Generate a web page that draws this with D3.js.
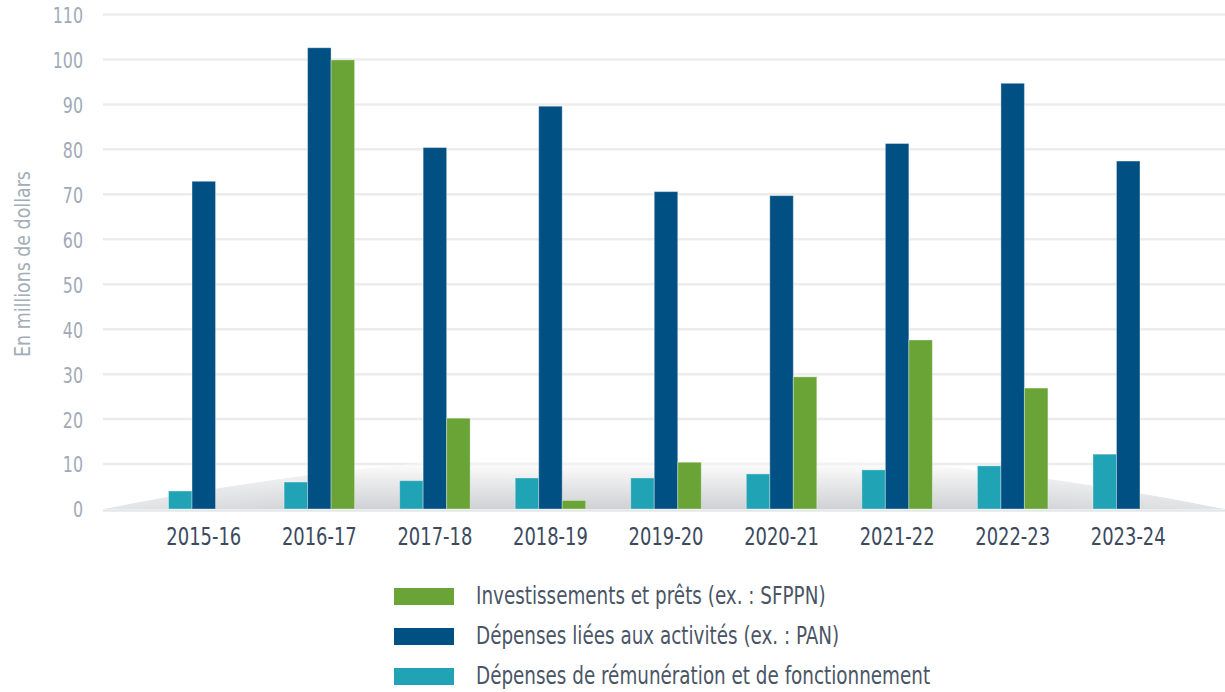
<!DOCTYPE html>
<html>
<head>
<meta charset="utf-8">
<script src="https://cdn.jsdelivr.net/npm/d3@7"></script>
<style>
  html, body { margin: 0; padding: 0; background: #ffffff; }
  svg { display: block; }
  text { font-family: "DejaVu Sans Condensed", "Liberation Sans Narrow", "Roboto", sans-serif; }
</style>
</head>
<body>
<svg id="chart" width="1225" height="692"></svg>
<script>
// Fiscal years shown on the horizontal axis
const years = ["2015-16", "2016-17", "2017-18", "2018-19", "2019-20", "2020-21", "2021-22", "2022-23", "2023-24"];

// Series names (legend order) and values, in millions of dollars
const seriesNames = [
  "Investissements et prêts (ex. : SFPPN)",
  "Dépenses liées aux activités (ex. : PAN)",
  "Dépenses de rémunération et de fonctionnement"
];
const investissements = [0, 99.9, 20.2, 1.9, 10.4, 29.4, 37.6, 26.9, 0];
const activites = [72.9, 102.6, 80.4, 89.6, 70.6, 69.7, 81.3, 94.7, 77.4];
const remuneration = [4.0, 6.0, 6.3, 6.9, 6.9, 7.8, 8.7, 9.6, 12.2];

// Y axis ticks
const yTicks = [0, 10, 20, 30, 40, 50, 60, 70, 80, 90, 100, 110];
const yTitle = "En millions de dollars";

const colors = {
  inv: "#6aa336",
  act: "#005083",
  rem: "#20a3b5"
};

const svg = d3.select("#chart");

const y = d3.scaleLinear().domain([0, 110]).range([509, 14.5]);

const x0 = d3.scaleBand()
  .domain(years)
  .range([146, 1186])
  .paddingInner(0.39)
  .paddingOuter(0.195);

// Bars inside each group: remuneration, activities, investments
const barOrder = ["rem", "act", "inv"];
const x1 = d3.scaleBand().domain(barOrder).range([0, x0.bandwidth()]);

const valuesByKey = { rem: remuneration, act: activites, inv: investissements };

// Gridlines
svg.append("g")
  .selectAll("line")
  .data(yTicks.filter(t => t > 0))
  .join("line")
  .attr("x1", 103)
  .attr("x2", 1225)
  .attr("y1", d => y(d))
  .attr("y2", d => y(d))
  .attr("stroke", "#ececec")
  .attr("stroke-width", 2.5);

// Floor shading beneath the bars: vertical fade, softened toward both ends
const defs = svg.append("defs");
const grad = defs.append("linearGradient")
  .attr("id", "floorGrad")
  .attr("x1", 0).attr("y1", 0).attr("x2", 0).attr("y2", 1);
grad.append("stop").attr("offset", "0%").attr("stop-color", "#ffffff").attr("stop-opacity", 0);
grad.append("stop").attr("offset", "40%").attr("stop-color", "#f1f1f2").attr("stop-opacity", 1);
grad.append("stop").attr("offset", "100%").attr("stop-color", "#cfd1d4").attr("stop-opacity", 1);

const fadeGrad = defs.append("linearGradient")
  .attr("id", "floorFade")
  .attr("x1", 0).attr("y1", 0).attr("x2", 1).attr("y2", 0);
fadeGrad.append("stop").attr("offset", "0%").attr("stop-color", "#fff").attr("stop-opacity", 0.55);
fadeGrad.append("stop").attr("offset", "20%").attr("stop-color", "#fff").attr("stop-opacity", 1);
fadeGrad.append("stop").attr("offset", "80%").attr("stop-color", "#fff").attr("stop-opacity", 1);
fadeGrad.append("stop").attr("offset", "100%").attr("stop-color", "#fff").attr("stop-opacity", 0.6);

const floorY = y(0);
const floorPath = `M103,${floorY} Q664,${floorY - 114} 1225,${floorY} Z`;
defs.append("mask").attr("id", "floorMask")
  .append("path")
  .attr("d", floorPath)
  .attr("fill", "url(#floorFade)");

svg.append("path")
  .attr("d", floorPath)
  .attr("fill", "url(#floorGrad)")
  .attr("mask", "url(#floorMask)");

// Baseline
svg.append("line")
  .attr("x1", 103).attr("x2", 1225)
  .attr("y1", floorY + 1.5).attr("y2", floorY + 1.5)
  .attr("stroke", "#e6e7e9")
  .attr("stroke-width", 2.5);

// Bars
const groups = svg.append("g")
  .selectAll("g")
  .data(years)
  .join("g")
  .attr("transform", d => `translate(${x0(d)},0)`);

groups.selectAll("rect")
  .data((d, i) => barOrder.map(k => ({ key: k, value: valuesByKey[k][i] })).filter(b => b.value > 0))
  .join("rect")
  .attr("x", d => x1(d.key))
  .attr("width", x1.bandwidth())
  .attr("y", d => y(d.value))
  .attr("height", d => y(0) - y(d.value))
  .attr("fill", d => colors[d.key])
  .attr("stroke", "rgba(255,255,255,0.35)")
  .attr("stroke-width", 1);

// Y axis labels (narrow lettering)
const yAxis = d3.axisLeft(y).tickValues(yTicks).tickSize(0).tickPadding(0);
const yG = svg.append("g")
  .attr("transform", "translate(83,0)")
  .call(yAxis);
yG.select(".domain").remove();
yG.selectAll("text")
  .attr("fill", "#a0aab6")
  .attr("font-size", 22)
  .attr("dy", "0.36em")
  .attr("transform", "scale(0.8,1)")
  .style("font-family", "\"DejaVu Sans Condensed\", sans-serif");

// Y axis title
svg.append("text")
  .attr("transform", "translate(30,264) rotate(-90) scale(0.88,1)")
  .attr("text-anchor", "middle")
  .attr("fill", "#a3adb8")
  .attr("font-size", 22)
  .text(yTitle);

// X axis labels
const xAxis = d3.axisBottom(x0).tickSize(0).tickPadding(0);
const xG = svg.append("g")
  .attr("transform", "translate(0,528)")
  .call(xAxis);
xG.select(".domain").remove();
xG.selectAll("text")
  .attr("fill", "#3b4a5e")
  .attr("font-size", 24)
  .attr("dy", "0.72em")
  .attr("transform", "scale(0.83,1)")
  .style("font-family", "\"DejaVu Sans Condensed\", sans-serif");

// Legend
const legendKeys = ["inv", "act", "rem"];
const legend = svg.append("g")
  .selectAll("g")
  .data(legendKeys)
  .join("g")
  .attr("transform", (d, i) => `translate(394,${588 + i * 40})`);

legend.append("rect")
  .attr("width", 60)
  .attr("height", 17)
  .attr("fill", d => colors[d]);

legend.append("text")
  .attr("transform", "translate(82,16) scale(0.85,1)")
  .attr("fill", "#4a5566")
  .attr("font-size", 24)
  .text((d, i) => seriesNames[i]);
</script>
</body>
</html>
